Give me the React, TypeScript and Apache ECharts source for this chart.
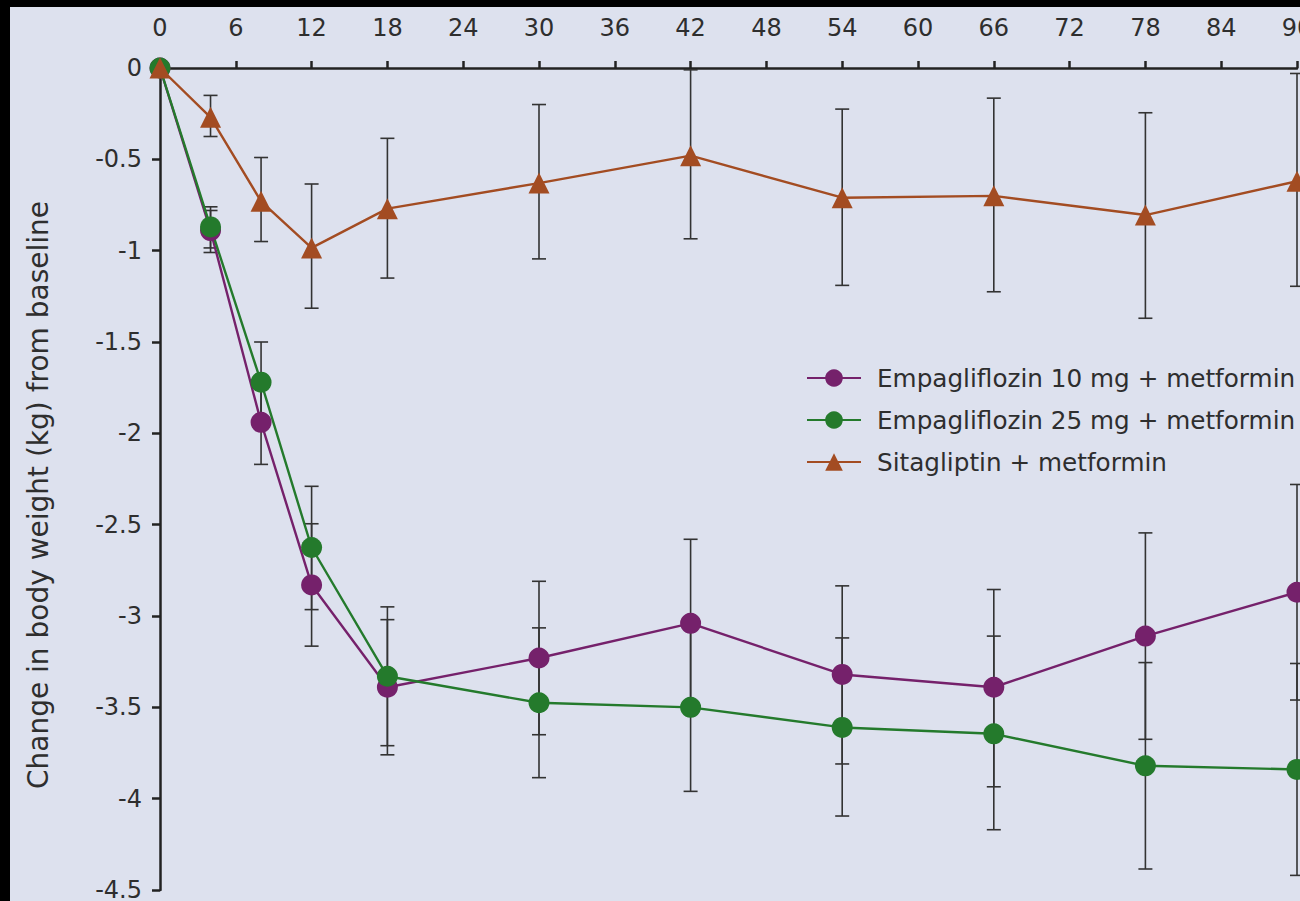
import React, { useEffect, useRef } from "react";
import * as echarts from "echarts";

const weeks = [0, 4, 8, 12, 18, 30, 42, 54, 66, 78, 90];
const xTicks = [0, 6, 12, 18, 24, 30, 36, 42, 48, 54, 60, 66, 72, 78, 84, 90];

const empa10 = [0, -0.89, -1.94, -2.83, -3.39, -3.23, -3.04, -3.32, -3.39, -3.11, -2.87];
const empa10Upper = [0, -0.78, -1.71, -2.495, -3.02, -2.81, -2.58, -2.835, -2.855, -2.545, -2.28];
const empa10Lower = [0, -1.01, -2.17, -3.165, -3.76, -3.65, -3.5, -3.81, -3.935, -3.675, -3.46];

const empa25 = [0, -0.87, -1.72, -2.625, -3.33, -3.475, -3.5, -3.61, -3.645, -3.82, -3.84];
const empa25Upper = [0, -0.76, -1.5, -2.29, -2.95, -3.065, -3.04, -3.12, -3.11, -3.255, -3.26];
const empa25Lower = [0, -0.985, -1.94, -2.965, -3.71, -3.885, -3.96, -4.095, -4.17, -4.385, -4.42];

const sita = [0, -0.27, -0.73, -0.985, -0.77, -0.63, -0.48, -0.71, -0.7, -0.805, -0.62];
const sitaUpper = [0, -0.15, -0.49, -0.635, -0.385, -0.2, -0.01, -0.225, -0.165, -0.245, -0.03];
const sitaLower = [0, -0.375, -0.95, -1.315, -1.15, -1.045, -0.935, -1.19, -1.225, -1.37, -1.195];

const names = [
  "Empagliflozin 10 mg + metformin",
  "Empagliflozin 25 mg + metformin",
  "Sitagliptin + metformin",
];
const colors = ["#75216b", "#247a2c", "#a34c22"];
const yTitle = "Change in body weight (kg) from baseline";

const FONT = "DejaVu Sans";
const TEXT = "#2e2e2e";

function errData(lower: number[], upper: number[]) {
  return weeks
    .map((w, i) => [w, lower[i], upper[i]])
    .filter((_, i) => i > 0);
}

function errSeries(lower: number[], upper: number[]) {
  return {
    type: "custom",
    z: 1,
    silent: true,
    data: errData(lower, upper),
    renderItem: (params: any, api: any) => {
      const x = api.value(0);
      const lo = api.value(1);
      const hi = api.value(2);
      const p1 = api.coord([x, hi]);
      const p2 = api.coord([x, lo]);
      const hw = 7;
      const style = { stroke: "#333333", lineWidth: 1.6 };
      return {
        type: "group",
        children: [
          { type: "line", shape: { x1: p1[0], y1: p1[1], x2: p2[0], y2: p2[1] }, style },
          { type: "line", shape: { x1: p1[0] - hw, y1: p1[1], x2: p1[0] + hw, y2: p1[1] }, style },
          { type: "line", shape: { x1: p2[0] - hw, y1: p2[1], x2: p2[0] + hw, y2: p2[1] }, style },
        ],
      };
    },
  };
}

function lineSeries(idx: number, values: number[], symbol: string, size: number) {
  return {
    type: "line",
    name: names[idx],
    z: 2,
    data: weeks.map((w, i) => [w, values[i]]),
    symbol,
    symbolSize: size,
    showSymbol: true,
    lineStyle: { color: colors[idx], width: 2.4 },
    itemStyle: { color: colors[idx], borderWidth: 0 },
  };
}

export default function App() {
  const ref = useRef<HTMLDivElement>(null);
  useEffect(() => {
    if (!ref.current) return;
    const chart = echarts.init(ref.current, undefined, { renderer: "svg" });
    chart.setOption({
      animation: false,
      backgroundColor: "#dde1ee",
      textStyle: { fontFamily: FONT },
      grid: {
        left: 150,
        top: 61,
        right: 3,
        bottom: 11,
        containLabel: false,
        outerBoundsMode: "none",
      },
      xAxis: {
        type: "value",
        position: "top",
        min: 0,
        max: 90,
        interval: 6,
        axisLine: { show: true, lineStyle: { color: "#222", width: 2.5 } },
        axisTick: { show: true, inside: false, length: 7, lineStyle: { color: "#222", width: 2.5 } },
        axisLabel: {
          show: true,
          margin: 28,
          color: TEXT,
          fontSize: 24,
          fontFamily: FONT,
          customValues: xTicks,
          hideOverlap: false,
        },
        splitLine: { show: false },
      },
      yAxis: {
        type: "value",
        min: -4.5,
        max: 0,
        interval: 0.5,
        axisLine: { show: true, onZero: false, lineStyle: { color: "#222", width: 2.5 } },
        axisTick: { show: true, inside: false, length: 8, lineStyle: { color: "#222", width: 2.5 } },
        axisLabel: {
          show: true,
          margin: 18,
          color: TEXT,
          fontSize: 24,
          fontFamily: FONT,
        },
        splitLine: { show: false },
      },
      legend: {
        orient: "vertical",
        left: 796,
        top: 357,
        padding: 0,
        itemWidth: 54,
        itemHeight: 22,
        itemGap: 14,
        data: names,
        textStyle: {
          color: TEXT,
          fontSize: 24.7,
          fontFamily: FONT,
          lineHeight: 28,
          padding: [0, 0, 0, 11],
        },
      },
      graphic: [
        {
          type: "text",
          x: 28,
          y: 488,
          rotation: Math.PI / 2,
          style: {
            text: yTitle,
            fontSize: 28,
            fontFamily: FONT,
            fill: TEXT,
            align: "center",
            verticalAlign: "middle",
          },
        },
      ],
      series: [
        errSeries(empa10Lower, empa10Upper),
        errSeries(empa25Lower, empa25Upper),
        errSeries(sitaLower, sitaUpper),
        lineSeries(0, empa10, "circle", 21),
        lineSeries(1, empa25, "circle", 21),
        lineSeries(2, sita, "triangle", 21),
      ],
    });
    return () => chart.dispose();
  }, []);
  return (
    <div style={{ position: "fixed", left: 0, top: 0, width: 1300, height: 901, background: "#000" }}>
      <div
        ref={ref}
        style={{ position: "absolute", left: 10, top: 7, width: 1290, height: 894 }}
      />
    </div>
  );
}
